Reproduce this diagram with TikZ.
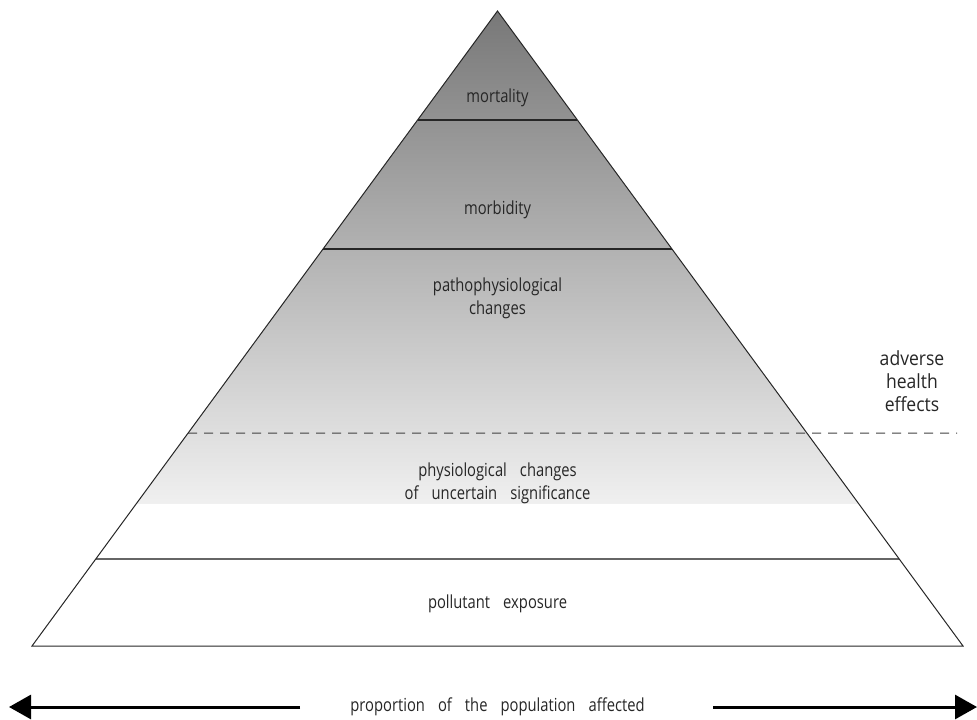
\documentclass[tikz,border=0pt]{standalone}
\usepackage{fontspec}
\setmainfont{Open Sans}
\newfontfamily\lblfont[FakeStretch=0.82,WordSpace=3.4]{Open Sans}
\newfontfamily\sidefont[FakeStretch=0.9]{Open Sans}
\usetikzlibrary{arrows.meta,calc}
\definecolor{pyrtop}{gray}{0.47}
\definecolor{pyrbot}{gray}{0.94}
\definecolor{edge}{gray}{0.15}

\begin{document}
\begin{tikzpicture}[x=1pt,y=-1pt,
    lbl/.style={font=\lblfont\fontsize{18}{23}\selectfont, text=black!85, align=center, inner sep=0pt},
    tier/.style={draw=edge, line width=1.1pt},
    bigarrow/.style={line width=3pt, -{Triangle[length=22pt,width=24pt]}}]

  \useasboundingbox (0,0) rectangle (977,720);

  \coordinate (top) at (497.5,11);
  \coordinate (bl) at (32,646);
  \coordinate (br) at (963,646);

  %% tier boundaries on both edges
  \foreach \t/\n in {0.1717/a, 0.3748/b, 0.6646/c, 0.8630/d}{
    \coordinate (\n-l) at ($(top)!\t!(bl)$);
    \coordinate (\n-r) at ($(top)!\t!(br)$);
  }

  %% grey shading, stops above the lowest tier
  \begin{scope}
    \clip (top) -- (bl) -- (br) -- cycle;
    \shade[top color=pyrtop, bottom color=pyrbot] (0,11) rectangle (977,503);
  \end{scope}

  \draw[tier] (a-l) -- (a-r); % mortality
  \draw[tier] (b-l) -- (b-r); % morbidity
  \draw[draw=black!60, line width=2pt] (d-l) -- (d-r); % exposure

  \coordinate (dashend) at (957,433);
  \draw[draw=black!75, line width=1pt, dash pattern=on 9pt off 7pt] (c-l) -- (dashend);

  \draw[draw=edge, line width=1pt, line join=miter] (top) -- (bl) -- (br) -- cycle;

  \node[lbl] (mort) at (497.5,98) {mortality};
  \node[lbl] (morb) at (497.5,210) {morbidity};
  \node[lbl] (patho) at (497.5,298) {pathophysiological\\changes};
  \node[lbl] (physio) at (497.5,483) {physiological changes\\of uncertain significance};
  \node[lbl] (expo) at (497.5,604) {pollutant exposure};
  \node[lbl, font=\sidefont\fontsize{19.5}{23}\selectfont] (adverse) at (912,381) {adverse\\health\\effects};

  %% population axis
  \node[lbl] (prop) at (497.5,707) {proportion of the population affected};
  \coordinate (ltail) at (300,707);
  \coordinate (ltip) at (9,707);
  \coordinate (rtail) at (713,707);
  \coordinate (rtip) at (977,707);
  \draw[bigarrow] (ltail) -- (ltip);
  \draw[bigarrow] (rtail) -- (rtip);
\end{tikzpicture}
\end{document}
